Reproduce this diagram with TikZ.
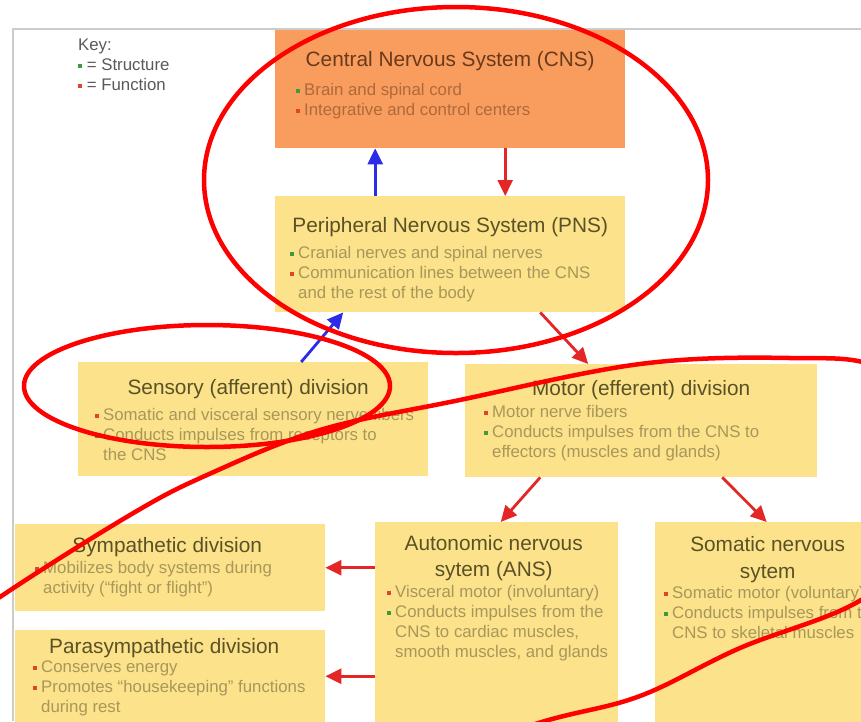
\documentclass[tikz,border=0pt]{standalone}
\usepackage{fontspec}
\setmainfont{Liberation Sans}
\usetikzlibrary{arrows.meta, positioning, calc}

\definecolor{cnsorange}{HTML}{F99D5E}
\definecolor{boxyellow}{HTML}{FCE28A}
\definecolor{cnstitle}{HTML}{6A3A1C}
\definecolor{cnsbody}{HTML}{B0693A}
\definecolor{titleolive}{HTML}{5A5226}
\definecolor{bodyolive}{HTML}{A8975A}
\definecolor{keygray}{HTML}{5A5A5A}
\definecolor{keygreen}{HTML}{3E9A3E}
\definecolor{keyred}{HTML}{E0452B}
\definecolor{redline}{HTML}{E32626}
\definecolor{blueline}{HTML}{2B2BE8}
\definecolor{penred}{HTML}{FF0000}
\definecolor{framegray}{HTML}{CCCCCC}

\newcommand{\gdot}{\textcolor{keygreen}{\rule[2.5pt]{4pt}{4pt}}}
\newcommand{\rdot}{\textcolor{keyred}{\rule[2.5pt]{4pt}{4pt}}}
\newcommand{\gitem}{\llap{\gdot\hspace{4pt}}}
\newcommand{\ritem}{\llap{\rdot\hspace{4pt}}}

\begin{document}
\begin{tikzpicture}[
    x=1pt, y=-1pt,
    box/.style={rectangle, anchor=north west, inner sep=0pt, fill=boxyellow},
    title/.style={anchor=base, inner sep=0pt, align=center, text=titleolive, font=\fontsize{20.8}{26.5}\selectfont},
    body/.style={anchor=base west, inner sep=0pt, align=left, text=bodyolive, font=\fontsize{16.8}{20}\selectfont},
    arrow/.style={-{Triangle[length=16pt, width=15pt]}, line width=2.8pt},
    handmark/.style={draw=penred, line width=4.5pt}
]
    \clip (0,0) rectangle (861,721);
    \fill[white] (0,0) rectangle (861,721);
    \draw[framegray, line width=1.2pt] (861,29) -- (13,29) -- (13,721);

    % Key (base = last line)
    \node[body, text=keygray] (key) at (78,90) {Key:\\ \gdot\ = Structure\\ \rdot\ = Function};

    % CNS and PNS
    \node[box, fill=cnsorange, minimum width=350pt, minimum height=118pt] (cns) at (275,30) {};
    \node[title, text=cnstitle] (cnst) at ([yshift=-36.5pt]cns.north) {Central Nervous System (CNS)};
    \node[body, text=cnsbody] (cnsb) at ([xshift=29pt, yshift=-85pt]cns.north west)
        {\gitem Brain and spinal cord\\ \ritem Integrative and control centers};

    \node[box, minimum width=350pt, minimum height=116pt] (pns) at (275,196) {};
    \node[title] (pnst) at ([yshift=-36pt]pns.north) {Peripheral Nervous System (PNS)};
    \node[body] (pnsb) at ([xshift=23pt, yshift=-102pt]pns.north west)
        {\gitem Cranial nerves and spinal nerves\\ \ritem Communication lines between the CNS\\ and the rest of the body};

    % Sensory and motor
    \node[box, minimum width=350pt, minimum height=114pt] (sensory) at (78,362) {};
    \node[title] (sensoryt) at ([xshift=-5pt, yshift=-32pt]sensory.north) {Sensory (afferent) division};
    \node[body] (sensoryb) at ([xshift=25pt, yshift=-98pt]sensory.north west)
        {\ritem Somatic and visceral sensory nerve fibers\\ \gitem Conducts impulses from receptors to\\ the CNS};

    \node[box, minimum width=352pt, minimum height=113pt] (motor) at (465,364) {};
    \node[title] (motort) at ([yshift=-31pt]motor.north) {Motor (efferent) division};
    \node[body] (motorb) at ([xshift=27pt, yshift=-93pt]motor.north west)
        {\ritem Motor nerve fibers\\ \gitem Conducts impulses from the CNS to\\ effectors (muscles and glands)};

    % Bottom row
    \node[box, minimum width=310pt, minimum height=87pt] (symp) at (15,524) {};
    \node[title] (sympt) at ([xshift=-3pt, yshift=-28pt]symp.north) {Sympathetic division};
    \node[body] (sympb) at ([xshift=28pt, yshift=-69pt]symp.north west)
        {\ritem Mobilizes body systems during\\ activity (“fight or flight”)};

    \node[box, minimum width=310pt, minimum height=92pt] (para) at (15,630) {};
    \node[title] (parat) at ([xshift=-6pt, yshift=-23pt]para.north) {Parasympathetic division};
    \node[body] (parab) at ([xshift=26pt, yshift=-82pt]para.north west)
        {\ritem Conserves energy\\ \ritem Promotes “housekeeping” functions\\ during rest};

    \node[box, minimum width=243pt, minimum height=200pt] (ans) at (375,522) {};
    \node[title] (anst) at ([xshift=-3pt, yshift=-54.5pt]ans.north) {Autonomic nervous\\ sytem (ANS)};
    \node[body] (ansb) at ([xshift=20pt, yshift=-135pt]ans.north west)
        {\ritem Visceral motor (involuntary)\\ \gitem Conducts impulses from the\\ CNS to cardiac muscles,\\ smooth muscles, and glands};

    \node[box, minimum width=225pt, minimum height=200pt] (somatic) at (655,522) {};
    \node[title] (somatict) at ([yshift=-56pt]somatic.north) {Somatic nervous\\ sytem};
    \node[body] (somaticb) at ([xshift=17pt, yshift=-116pt]somatic.north west)
        {\ritem Somatic motor (voluntary)\\ \gitem Conducts impulses from the\\ CNS to skeletal muscles};

    % Connectors
    \draw[arrow, blueline] ([xshift=-75pt]pns.north) -- ([xshift=-75pt]cns.south);
    \draw[arrow, redline] ([xshift=55pt]cns.south) -- ([xshift=55pt]pns.north);
    \draw[arrow, blueline] ([xshift=48pt]sensory.north) -- ([xshift=-107pt]pns.south);
    \draw[arrow, redline] ([xshift=90pt]pns.south) -- ([xshift=-53pt]motor.north);
    \draw[arrow, redline] ([xshift=-101pt]motor.south) -- ([xshift=4pt]ans.north);
    \draw[arrow, redline] ([xshift=81pt]motor.south) -- ([xshift=-1pt]somatic.north);
    \draw[arrow, redline] (ans.west |- symp.east) -- (symp.east);
    \draw[arrow, redline] (ans.west |- para.east) -- (para.east);

    % Hand-drawn marks
    \draw[handmark] (456,180) ellipse [x radius=252, y radius=173];
    \draw[handmark] (207,386) ellipse [x radius=183, y radius=61];
    \draw[handmark] plot[smooth cycle, tension=0.6] coordinates {
        (0,597) (130,515) (207,475) (320,430) (455,401) (640,364) (790,358)
        (880,368) (950,430) (935,530) (861,600) (740,648) (640,696) (545,721)
        (420,760) (150,800) (-80,760) (-70,650)};
\end{tikzpicture}
\end{document}
